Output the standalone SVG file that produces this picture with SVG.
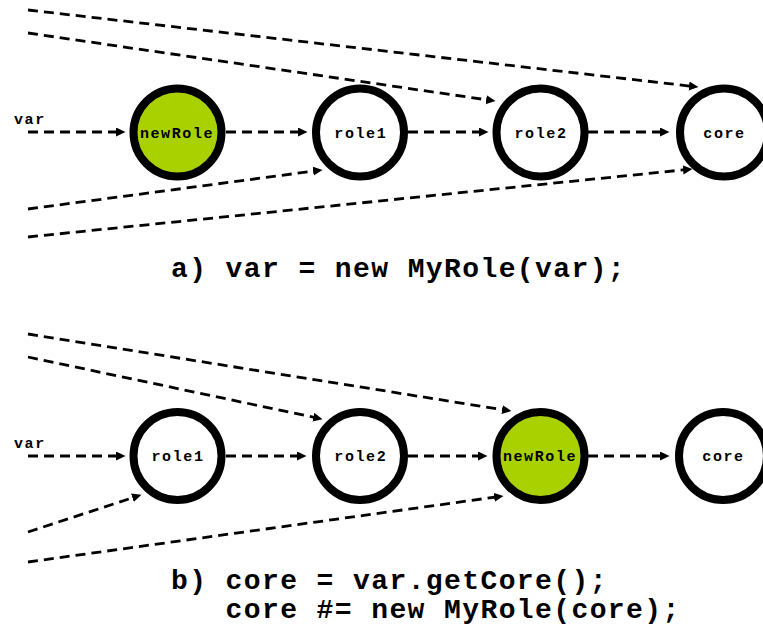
<svg xmlns="http://www.w3.org/2000/svg" width="763" height="628" viewBox="0 0 763 628">
<style>
.node{stroke:#000;stroke-width:8;fill:#fff}
.hl{fill:#a9d100}
.lbl{font-family:"Liberation Mono","Courier New",monospace;font-weight:bold;font-size:15px;letter-spacing:1.6px;fill:#000}
.c{text-anchor:middle}
.cap{font-family:"Liberation Mono","Courier New",monospace;font-weight:bold;font-size:28px;letter-spacing:1.4px;fill:#000}
.e{stroke:#000;stroke-width:2.8;stroke-dasharray:10 6;fill:none;marker-end:url(#ah)}
</style>
<defs>
<marker id="ah" markerUnits="userSpaceOnUse" markerWidth="11" markerHeight="10" refX="2" refY="4.5" orient="auto">
<path d="M0,0 L9.5,4.5 L0,9 Z" fill="#000"/>
</marker>
</defs>
<rect width="763" height="628" fill="#fff"/>
<g id="connectors">
<line class="e" x1="28" y1="132" x2="118" y2="132"/>
<line class="e" x1="226" y1="132" x2="300" y2="132"/>
<line class="e" x1="408" y1="132" x2="481" y2="132"/>
<line class="e" x1="588" y1="132" x2="662" y2="132"/>
<line class="e" x1="28" y1="10" x2="691" y2="86.2"/>
<line class="e" x1="28" y1="33" x2="488.1" y2="100"/>
<line class="e" x1="28" y1="209" x2="315.1" y2="170.9"/>
<line class="e" x1="28" y1="237" x2="685" y2="169.7"/>
<line class="e" x1="28" y1="456" x2="118" y2="456"/>
<line class="e" x1="226" y1="456" x2="299" y2="456"/>
<line class="e" x1="408" y1="456" x2="480" y2="456"/>
<line class="e" x1="588" y1="456" x2="662" y2="456"/>
<line class="e" x1="28" y1="334" x2="504.1" y2="409.9"/>
<line class="e" x1="28" y1="357" x2="315.2" y2="417.6"/>
<line class="e" x1="28" y1="532" x2="134.3" y2="497.2"/>
<line class="e" x1="28" y1="562" x2="496.1" y2="497"/>
</g>
<g id="a-newRole"><circle class="node hl" cx="177.5" cy="132.5" r="44"/><text class="lbl c" x="177" y="137.5">newRole</text></g>
<g id="a-role1"><circle class="node" cx="360" cy="132.5" r="44"/><text class="lbl c" x="360.8" y="137.5">role1</text></g>
<g id="a-role2"><circle class="node" cx="540.5" cy="132.5" r="44"/><text class="lbl c" x="541" y="137.5">role2</text></g>
<g id="a-core"><circle class="node" cx="724" cy="132.5" r="44"/><text class="lbl c" x="724.5" y="137.5">core</text></g>
<g id="b-role1"><circle class="node" cx="177.5" cy="456" r="44"/><text class="lbl c" x="178" y="461">role1</text></g>
<g id="b-role2"><circle class="node" cx="360" cy="456" r="44"/><text class="lbl c" x="360.8" y="461">role2</text></g>
<g id="b-newRole"><circle class="node hl" cx="540.5" cy="456" r="44"/><text class="lbl c" x="540" y="461">newRole</text></g>
<g id="b-core"><circle class="node" cx="723" cy="456" r="44"/><text class="lbl c" x="723.5" y="461">core</text></g>
<g id="labels">
<text class="lbl" x="14" y="124">var</text>
<text class="lbl" x="14" y="448">var</text>
<text class="cap" x="171" y="277">a) var = new MyRole(var);</text>
<text class="cap" x="171" y="589">b) core = var.getCore();</text>
<text class="cap" x="225.6" y="618">core #= new MyRole(core);</text>
</g>
</svg>
